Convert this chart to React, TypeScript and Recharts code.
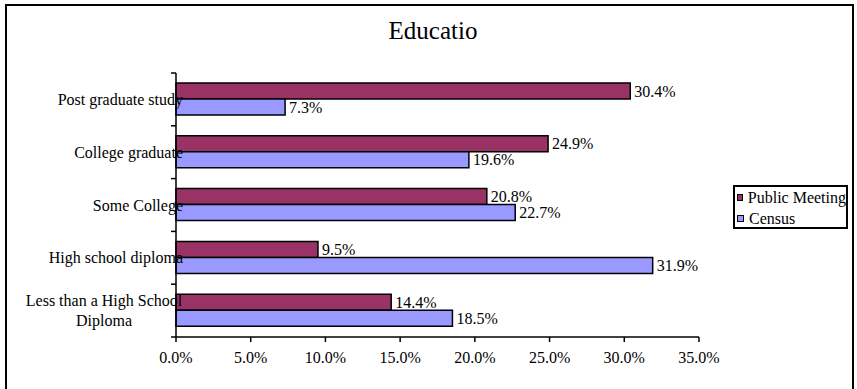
import React from 'react';
import { BarChart, Bar, XAxis, YAxis, LabelList } from 'recharts';

const categories = [
  'Post graduate study',
  'College graduate',
  'Some College',
  'High school diploma',
  'Less than a High School Diploma',
];
const publicMeeting = [30.4, 24.9, 20.8, 9.5, 14.4];
const census = [7.3, 19.6, 22.7, 31.9, 18.5];
const xTicks = [0, 5, 10, 15, 20, 25, 30, 35];

const FONT = '"Liberation Serif", "Times New Roman", serif';
const AXIS_X = 176;
const PLOT_TOP = 73;
const PLOT_BOTTOM = 337;
const BAND = (PLOT_BOTTOM - PLOT_TOP) / categories.length;

const data = categories.map((name, i) => ({
  name,
  publicMeeting: publicMeeting[i],
  census: census[i],
}));

const pct = (v: any) => `${Number(v).toFixed(1)}%`;

// wrap long labels into lines of at most ~23 chars like Excel does
function wrap(label: string, max = 23) {
  const words = label.split(' ');
  const lines: string[] = [];
  let cur = '';
  words.forEach((w) => {
    const next = cur ? cur + ' ' + w : w;
    if (next.length > max && cur) {
      lines.push(cur);
      cur = w;
    } else {
      cur = next;
    }
  });
  if (cur) lines.push(cur);
  return lines;
}

function CategoryTick(props: any) {
  const { y, payload, index } = props;
  const lines = wrap(payload.value);
  const right = AXIS_X + 7;
  const top = y - BAND / 2;
  return (
    <g>
      <line x1={AXIS_X - 5} x2={AXIS_X} y1={top} y2={top} stroke="#000" strokeWidth={1.5} />
      {index === categories.length - 1 && (
        <line x1={AXIS_X - 5} x2={AXIS_X} y1={top + BAND} y2={top + BAND} stroke="#000" strokeWidth={1.5} />
      )}
      {lines.length === 1 ? (
        <text x={right} y={y} dy="0.35em" textAnchor="end" fontSize={16} fontFamily={FONT} fill="#000">
          {lines[0]}
        </text>
      ) : (
        lines.map((ln, i) => (
          <text
            key={i}
            x={104}
            y={y + (i - (lines.length - 1) / 2) * 20}
            dy="0.35em"
            textAnchor="middle"
            fontSize={16}
            fontFamily={FONT}
            fill="#000"
          >
            {ln}
          </text>
        ))
      )}
    </g>
  );
}

function LegendBox() {
  const items = [
    { label: 'Public Meeting', color: '#993366' },
    { label: 'Census', color: '#9999FF' },
  ];
  return (
    <div
      style={{
        position: 'absolute',
        left: 733,
        top: 185,
        width: 111,
        height: 40,
        border: '2px solid #000',
        overflow: 'hidden',
        background: '#fff',
        fontFamily: FONT,
        fontSize: 16,
        whiteSpace: 'nowrap',
        paddingTop: 0,
      }}
    >
      {items.map((it) => (
        <div key={it.label} style={{ display: 'flex', alignItems: 'center', height: 21, lineHeight: '21px' }}>
          <span
            style={{
              display: 'inline-block',
              width: 5,
              height: 5,
              background: it.color,
              border: '1px solid #000',
              marginLeft: 2,
              marginRight: 5,
            }}
          />
          <span>{it.label}</span>
        </div>
      ))}
    </div>
  );
}

export default function App() {
  return (
    <div style={{ position: 'absolute', left: 0, top: 0, width: 857, height: 389, overflow: 'hidden', background: '#fff' }}>
      <div
        style={{
          position: 'absolute',
          left: 5,
          top: 4,
          width: 845,
          height: 420,
          border: '2px solid #000',
        }}
      />
      <div
        style={{
          position: 'absolute',
          left: 0,
          width: 866,
          top: 17,
          textAlign: 'center',
          fontFamily: FONT,
          fontSize: 25,
          lineHeight: '28px',
        }}
      >
        Educatio
      </div>
      <div style={{ position: 'absolute', left: 0, top: 0 }}>
        <BarChart
          width={857}
          height={389}
          data={data}
          layout="vertical"
          margin={{ top: PLOT_TOP, right: 158, bottom: 389 - PLOT_BOTTOM - 30, left: 0 }}
          barGap={0}
          barSize={16}
        >
          <XAxis
            type="number"
            domain={[0, 35]}
            ticks={xTicks}
            tickFormatter={pct}
            height={30}
            tickSize={5}
            tickMargin={10}
            axisLine={{ stroke: '#000', strokeWidth: 1.5 }}
            tickLine={{ stroke: '#000', strokeWidth: 1.5 }}
            tick={{ fill: '#000', fontSize: 16, fontFamily: FONT }}
            interval={0}
          />
          <YAxis
            type="category"
            dataKey="name"
            width={AXIS_X}
            axisLine={{ stroke: '#000', strokeWidth: 1.5 }}
            tickLine={false}
            tick={<CategoryTick />}
            interval={0}
          />
          <Bar dataKey="publicMeeting" name="Public Meeting" fill="#993366" stroke="#000" strokeWidth={1.5} isAnimationActive={false}>
            <LabelList dataKey="publicMeeting" position="right" offset={4} formatter={pct} fill="#000" fontSize={16} fontFamily={FONT} />
          </Bar>
          <Bar dataKey="census" name="Census" fill="#9999FF" stroke="#000" strokeWidth={1.5} isAnimationActive={false}>
            <LabelList dataKey="census" position="right" offset={4} formatter={pct} fill="#000" fontSize={16} fontFamily={FONT} />
          </Bar>
        </BarChart>
      </div>
      <LegendBox />
    </div>
  );
}
